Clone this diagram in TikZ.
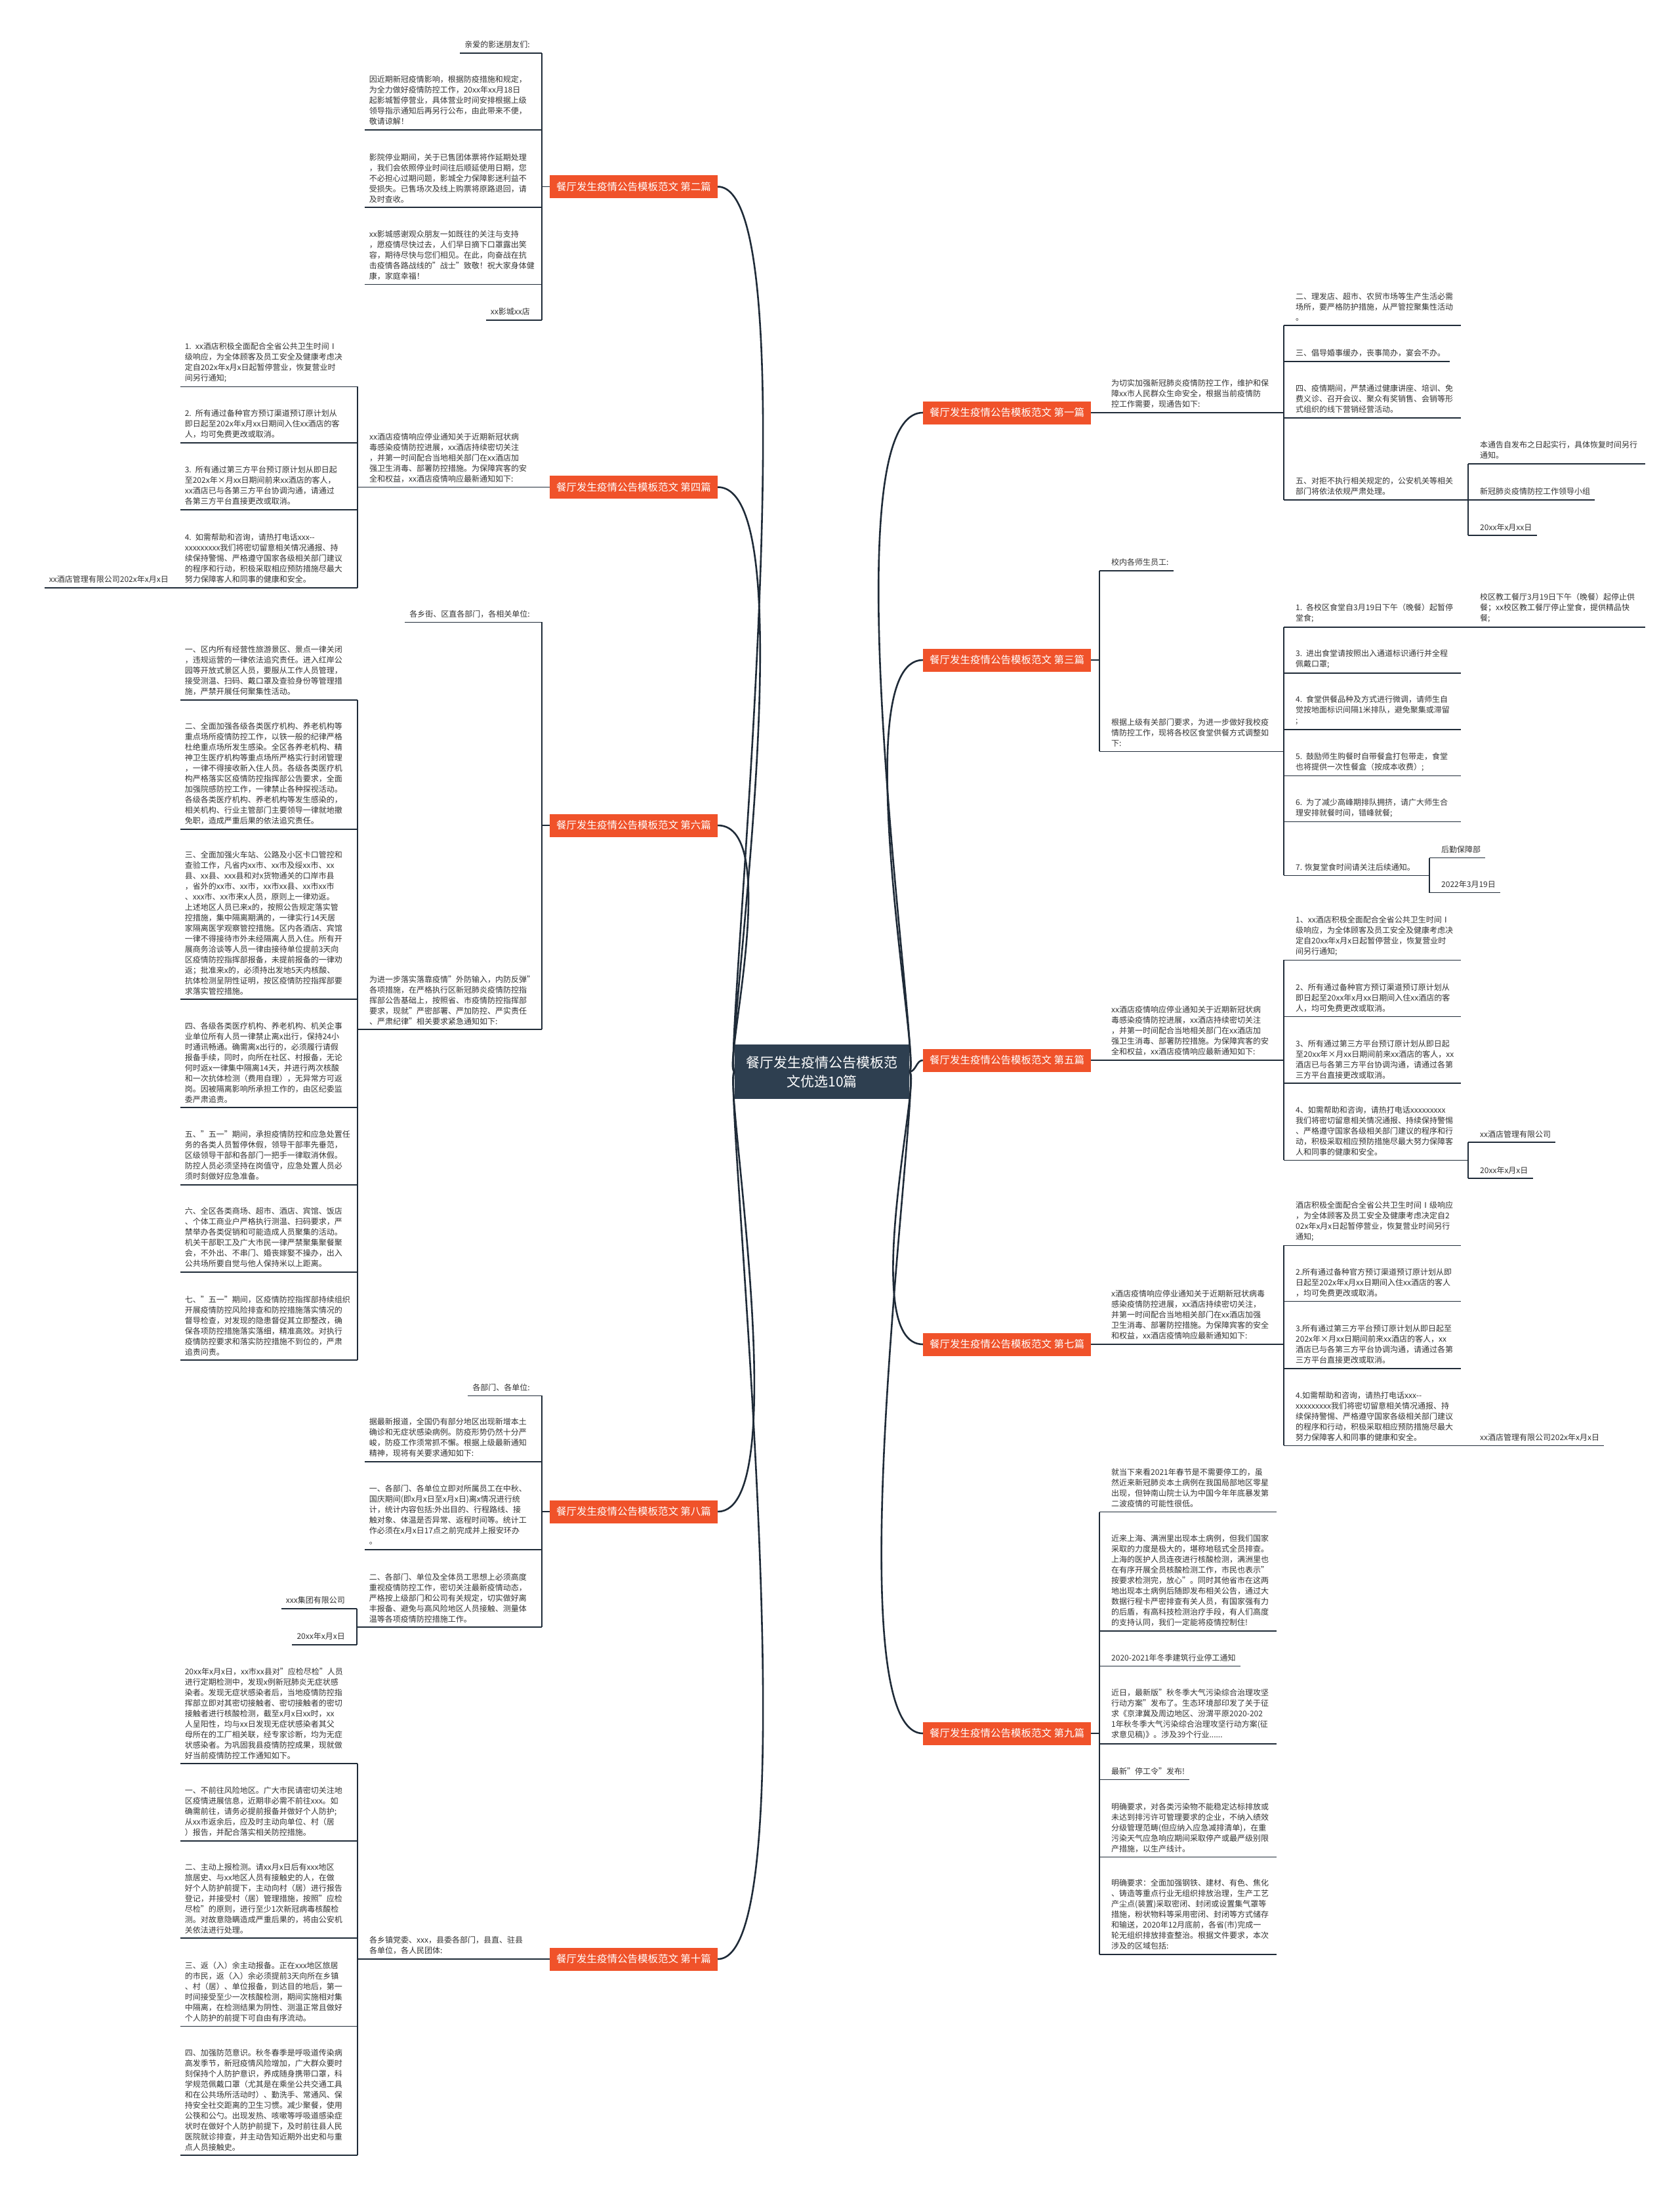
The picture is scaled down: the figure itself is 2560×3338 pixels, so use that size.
\documentclass[tikz,border=0pt]{standalone}
\usepackage{fontspec}
\setmainfont{Noto Sans CJK SC}
\usetikzlibrary{calc}
\definecolor{linec}{HTML}{1F2B38}
\definecolor{labc}{HTML}{F0522A}
\definecolor{ctrc}{HTML}{2E3F50}
\definecolor{txtc}{HTML}{333333}
\tikzset{
 ln/.style={draw=linec, line width=1.6pt},
 crv/.style={draw=linec, line width=2.6pt},
 tx/.style={font=\fontsize{12}{16}\selectfont, text=txtc, inner xsep=7pt, inner ysep=6.8pt, align=left},
 pp/.style={tx, text width=245pt},
 nl/.style={anchor=south east},
 nr/.style={anchor=south west},
 lab/.style={fill=labc, text=white, font=\fontsize{15.5}{18}\selectfont, minimum width=256pt, minimum height=35pt, inner sep=0pt},
 ctr/.style={fill=ctrc, text=white, font=\fontsize{21}{29}\selectfont, align=center, minimum width=266pt, minimum height=83pt, inner sep=0pt},
}
\begin{document}
\begin{tikzpicture}[x=1pt,y=-1pt]
\useasboundingbox (0,0) rectangle (2560,3338);
\fill[white] (0,0) rectangle (2560,3338);

% ---------- center and labels ----------
\node[ctr] (c) at (1253,1633.5) {餐厅发生疫情公告模板范\\文优选10篇};
\node[lab] (L2) at (966,284.5) {餐厅发生疫情公告模板范文 第二篇};
\node[lab] (L4) at (966,742.5) {餐厅发生疫情公告模板范文 第四篇};
\node[lab] (L6) at (966,1258) {餐厅发生疫情公告模板范文 第六篇};
\node[lab] (L8) at (966,2304) {餐厅发生疫情公告模板范文 第八篇};
\node[lab] (L10) at (966,2986) {餐厅发生疫情公告模板范文 第十篇};
\node[lab] (L1) at (1535,629) {餐厅发生疫情公告模板范文 第一篇};
\node[lab] (L3) at (1535,1006) {餐厅发生疫情公告模板范文 第三篇};
\node[lab] (L5) at (1535,1616) {餐厅发生疫情公告模板范文 第五篇};
\node[lab] (L7) at (1535,2049) {餐厅发生疫情公告模板范文 第七篇};
\node[lab] (L9) at (1535,2642) {餐厅发生疫情公告模板范文 第九篇};

\draw[crv] (L2.east) .. controls +(150,0) and +(-20,0) .. (c.west);
\draw[crv] (L4.east) .. controls +(140,0) and +(-20,0) .. (c.west);
\draw[crv] (L6.east) .. controls +(100,0) and +(-20,0) .. (c.west);
\draw[crv] (L8.east) .. controls +(120,0) and +(-20,0) .. (c.west);
\draw[crv] (L10.east) .. controls +(150,0) and +(-20,0) .. (c.west);
\draw[crv] (L1.west) .. controls +(-150,0) and +(20,0) .. (c.east);
\draw[crv] (L3.west) .. controls +(-120,0) and +(20,0) .. (c.east);
\draw[crv] (L5.west) .. controls +(-10,0) and +(10,0) .. (c.east);
\draw[crv] (L7.west) .. controls +(-100,0) and +(20,0) .. (c.east);
\draw[crv] (L9.west) .. controls +(-140,0) and +(20,0) .. (c.east);

% ---------- branch 2 ----------
\coordinate (k2) at (826,284.5);
\node[tx,nl] (b2a) at (815,80.7) {亲爱的影迷朋友们:};
\node[pp,nl] (b2b) at (815,197.7) {因近期新冠疫情影响，根据防疫措施和规定，\\为全力做好疫情防控工作，20xx年xx月18日\\起影城暂停营业，具体营业时间安排根据上级\\领导指示通知后再另行公布，由此带来不便，\\敬请谅解！};
\node[pp,nl] (b2c) at (815,316) {影院停业期间，关于已售团体票将作延期处理\\，我们会依照停业时间往后顺延使用日期，您\\不必担心过期问题，影城全力保障影迷利益不\\受损失。已售场次及线上购票将原路退回，请\\及时查收。};
\node[pp,nl] (b2d) at (815,433.3) {xx影城感谢观众朋友一如既往的关注与支持\\，愿疫情尽快过去，人们早日摘下口罩露出笑\\容，期待尽快与您们相见。在此，向奋战在抗\\击疫情各路战线的"战士"致敬！祝大家身体健\\康，家庭幸福！};
\node[tx,nl] (b2e) at (815,487.7) {xx影城xx店};
\draw[ln] (L2.west) -- (k2);
\draw[ln] (b2a.south west -| k2) -- (b2e.south west -| k2);
\foreach \n in {b2a,b2b,b2c,b2d,b2e} \draw[ln] (\n.south west) -- (\n.south west -| k2);

% ---------- branch 4 ----------
\coordinate (k4) at (545,742.5);
\node[pp,nr] (i4) at (556,742.5) {xx酒店疫情响应停业通知关于近期新冠状病\\毒感染疫情防控进展，xx酒店持续密切关注\\，并第一时间配合当地相关部门在xx酒店加\\强卫生消毒、部署防控措施。为保障宾客的安\\全和权益，xx酒店疫情响应最新通知如下:};
\draw[ln] (L4.west) -- (k4);
\node[pp,nl] (c41) at (534,589.3) {1. xx酒店积极全面配合全省公共卫生时间Ⅰ\\级响应，为全体顾客及员工安全及健康考虑决\\定自202x年x月x日起暂停营业，恢复营业时\\间另行通知;};
\node[pp,nl] (c42) at (534,675) {2. 所有通过备种官方预订渠道预订原计划从\\即日起至202x年x月xx日期间入住xx酒店的客\\人，均可免费更改或取消。};
\node[pp,nl] (c43) at (534,776.7) {3. 所有通过第三方平台预订原计划从即日起\\至202x年×月xx日期间前来xx酒店的客人，\\xx酒店已与各第三方平台协调沟通，请通过\\各第三方平台直接更改或取消。};
\node[pp,nl] (c44) at (534,895.7) {4. 如需帮助和咨询，请热打电话xxx-{}-\\xxxxxxxxx我们将密切留意相关情况通报、持\\续保持警惕、严格遵守国家各级相关部门建议\\的程序和行动，积极采取相应预防措施尽最大\\努力保障客人和同事的健康和安全。};
\node[tx,nl] (g4) at (264,895.7) {xx酒店管理有限公司202x年x月x日};
\draw[ln] (c41.south west -| k4) -- (c44.south west -| k4);
\foreach \n in {c41,c42,c43,c44} \draw[ln] (\n.south west) -- (\n.south west -| k4);
\draw[ln] (g4.south west) -- (c44.south west);

% ---------- branch 6 ----------
\coordinate (k6) at (826,1258);
\coordinate (k6b) at (545,1569);
\node[tx,nl] (t6) at (815,948.3) {各乡街、区直各部门，各相关单位:};
\node[pp,nr] (i6) at (556,1569) {为进一步落实落靠疫情"外防输入，内防反弹"\\各项措施，在严格执行区新冠肺炎疫情防控指\\挥部公告基础上，按照省、市疫情防控指挥部\\要求，现就"严密部署、严加防控、严实责任\\、严肃纪律"相关要求紧急通知如下:};
\draw[ln] (L6.west) -- (k6);
\draw[ln] (t6.south west -| k6) -- (k6b -| k6);
\draw[ln] (t6.south west) -- (t6.south west -| k6);
\draw[ln] (k6b) -- (k6b -| k6);
\node[pp,nl] (e61) at (534,1067) {一、区内所有经营性旅游景区、景点一律关闭\\，违规运营的一律依法追究责任。进入红岸公\\园等开放式景区人员，要服从工作人员管理，\\接受测温、扫码、戴口罩及查验身份等管理措\\施，严禁开展任何聚集性活动。};
\node[pp,nl] (e62) at (534,1264) {二、全面加强各级各类医疗机构、养老机构等\\重点场所疫情防控工作，以铁一般的纪律严格\\杜绝重点场所发生感染。全区各养老机构、精\\神卫生医疗机构等重点场所严格实行封闭管理\\，一律不得接收新入住人员。各级各类医疗机\\构严格落实区疫情防控指挥部公告要求，全面\\加强院感防控工作，一律禁止各种探视活动。\\各级各类医疗机构、养老机构等发生感染的，\\相关机构、行业主管部门主要领导一律就地撤\\免职，造成严重后果的依法追究责任。};
\node[pp,nl] (e63) at (534,1523) {三、全面加强火车站、公路及小区卡口管控和\\查验工作，凡省内xx市、xx市及绥xx市、xx\\县、xx县、xxx县和对x货物通关的口岸市县\\，省外的xx市、xx市，xx市xx县、xx市xx市\\、xxx市、xx市来x人员，原则上一律劝返。\\上述地区人员已来x的，按照公告规定落实管\\控措施，集中隔离期满的，一律实行14天居\\家隔离医学观察管控措施。区内各酒店、宾馆\\一律不得接待市外未经隔离人员入住。所有开\\展商务洽谈等人员一律由接待单位提前3天向\\区疫情防控指挥部报备，未提前报备的一律劝\\返；批准来x的，必须持出发地5天内核酸、\\抗体检测呈阴性证明，按区疫情防控指挥部要\\求落实管控措施。};
\node[pp,nl] (e64) at (534,1688) {四、各级各类医疗机构、养老机构、机关企事\\业单位所有人员一律禁止离x出行，保持24小\\时通讯畅通。确需离x出行的，必须履行请假\\报备手续，同时，向所在社区、村报备，无论\\何时返x一律集中隔离14天，并进行两次核酸\\和一次抗体检测（费用自理），无异常方可返\\岗。因被隔离影响所承担工作的，由区纪委监\\委严肃追责。};
\node[pp,nl] (e65) at (534,1806) {五、"五一"期间，承担疫情防控和应急处置任\\务的各类人员暂停休假，领导干部率先垂范，\\区级领导干部和各部门一把手一律取消休假。\\防控人员必须坚持在岗值守，应急处置人员必\\须时刻做好应急准备。};
\node[pp,nl] (e66) at (534,1939) {六、全区各类商场、超市、酒店、宾馆、饭店\\、个体工商业户严格执行测温、扫码要求，严\\禁举办各类促销和可能造成人员聚集的活动。\\机关干部职工及广大市民一律严禁聚集聚餐聚\\会，不外出、不串门、婚丧嫁娶不操办，出入\\公共场所要自觉与他人保持米以上距离。};
\node[pp,nl] (e67) at (534,2073) {七、"五一"期间，区疫情防控指挥部持续组织\\开展疫情防控风险排查和防控措施落实情况的\\督导检查，对发现的隐患督促其立即整改，确\\保各项防控措施落实落细，精准高效。对执行\\疫情防控要求和落实防控措施不到位的，严肃\\追责问责。};
\draw[ln] (e61.south west -| k6b) -- (e67.south west -| k6b);
\foreach \n in {e61,e62,e63,e64,e65,e66,e67} \draw[ln] (\n.south west) -- (\n.south west -| k6b);

% ---------- branch 8 ----------
\coordinate (k8) at (826,2304);
\coordinate (k8b) at (544,2480);
\node[tx,nl] (t8) at (815,2127.3) {各部门、各单位:};
\node[pp,nl] (p81) at (815,2228) {据最新报道，全国仍有部分地区出现新增本土\\确诊和无症状感染病例。防疫形势仍然十分严\\峻，防疫工作须常抓不懈。根据上级最新通知\\精神，现将有关要求通知如下:};
\node[pp,nl] (p82) at (815,2361.7) {一、各部门、各单位立即对所属员工在中秋、\\国庆期间(即x月x日至x月x日)离x情况进行统\\计，统计内容包括:外出目的、行程路线、接\\触对象、体温是否异常、返程时间等。统计工\\作必须在x月x日17点之前完成并上报安环办\\。};
\node[pp,nl] (p83) at (815,2480) {二、各部门、单位及全体员工思想上必须高度\\重视疫情防控工作，密切关注最新疫情动态，\\严格按上级部门和公司有关规定，切实做好离\\丰报备、避免与高风险地区人员接触、测量体\\温等各项疫情防控措施工作。};
\node[tx,nl] (q81) at (533,2451.7) {xxx集团有限公司};
\node[tx,nl] (q82) at (533,2506.7) {20xx年x月x日};
\draw[ln] (L8.west) -- (k8);
\draw[ln] (t8.south west -| k8) -- (p83.south west -| k8);
\foreach \n in {t8,p81,p82} \draw[ln] (\n.south west) -- (\n.south west -| k8);
\draw[ln] (k8b) -- (k8b -| k8);
\draw[ln] (q81.south west -| k8b) -- (q82.south west -| k8b);
\foreach \n in {q81,q82} \draw[ln] (\n.south west) -- (\n.south west -| k8b);

% ---------- branch 10 ----------
\coordinate (k10) at (545,2986);
\node[pp,nr] (i10) at (556,2986) {各乡镇党委、xxx，县委各部门，县直、驻县\\各单位，各人民团体:};
\draw[ln] (L10.west) -- (k10);
\node[pp,nl] (f0) at (534,2688) {20xx年x月x日，xx市xx县对"应检尽检"人员\\进行定期检测中，发现x例新冠肺炎无症状感\\染者。发现无症状感染者后，当地疫情防控指\\挥部立即对其密切接触者、密切接触者的密切\\接触者进行核酸检测，截至x月x日xx时，xx\\人呈阳性，均与xx日发现无症状感染者其父\\母所在的工厂相关联，经专家诊断，均为无症\\状感染者。为巩固我县疫情防控成果，现就做\\好当前疫情防控工作通知如下。};
\node[pp,nl] (f1) at (534,2805.7) {一、不前往风险地区。广大市民请密切关注地\\区疫情进展信息，近期非必需不前往xxx。如\\确需前往，请务必提前报备并做好个人防护;\\从xx市返余后，应及时主动向单位、村（居\\）报告，并配合落实相关防控措施。};
\node[pp,nl] (f2) at (534,2954) {二、主动上报检测。请xx月x日后有xxx地区\\旅居史、与xx地区人员有接触史的人，在做\\好个人防护前提下，主动向村（居）进行报告\\登记，并接受村（居）管理措施，按照"应检\\尽检"的原则，进行至少1次新冠病毒核酸检\\测。对故意隐瞒造成严重后果的，将由公安机\\关依法进行处理。};
\node[pp,nl] (f3) at (534,3088.3) {三、返（入）余主动报备。正在xxx地区旅居\\的市民，返（入）余必须提前3天向所在乡镇\\、村（居）、单位报备，到达目的地后，第一\\时间接受至少一次核酸检测，期间实施相对集\\中隔离，在检测结果为阴性、测温正常且做好\\个人防护的前提下可自由有序流动。};
\node[pp,nl] (f4) at (534,3285) {四、加强防范意识。秋冬春季是呼吸道传染病\\高发季节，新冠疫情风险增加，广大群众要时\\刻保持个人防护意识，养成随身携带口罩，科\\学规范佩戴口罩（尤其是在乘坐公共交通工具\\和在公共场所活动时）、勤洗手、常通风、保\\持安全社交距离的卫生习惯。减少聚餐，使用\\公筷和公勺。出现发热、咳嗽等呼吸道感染症\\状时在做好个人防护前提下，及时前往县人民\\医院就诊排查，并主动告知近期外出史和与重\\点人员接触史。};
\draw[ln] (f0.south west -| k10) -- (f4.south west -| k10);
\foreach \n in {f0,f1,f2,f3,f4} \draw[ln] (\n.south west) -- (\n.south west -| k10);

% ---------- branch 1 ----------
\coordinate (k1) at (1957,629);
\coordinate (k1b) at (2238,761.7);
\node[pp,nr] (i1) at (1687,629) {为切实加强新冠肺炎疫情防控工作，维护和保\\障xx市人民群众生命安全，根据当前疫情防\\控工作需要，现通告如下:};
\draw[ln] (L1.east) -- (k1);
\node[pp,nr] (d11) at (1968,496) {二、理发店、超市、农贸市场等生产生活必需\\场所，要严格防护措施，从严管控聚集性活动\\。};
\node[tx,nr] (d12) at (1968,550.7) {三、倡导婚事缓办，丧事简办，宴会不办。};
\node[pp,nr] (d13) at (1968,636.7) {四、疫情期间，严禁通过健康讲座、培训、免\\费义诊、召开会议、聚众有奖销售、会销等形\\式组织的线下营销经营活动。};
\node[pp,nr] (d14) at (1968,761.7) {五、对拒不执行相关规定的，公安机关等相关\\部门将依法依规严肃处理。};
\draw[ln] (d11.south west -| k1) -- (d14.south west -| k1);
\foreach \n in {d11,d12,d13} \draw[ln] (\n.south west -| k1) -- (\n.south east);
\draw[ln] (d14.south west -| k1) -- (k1b);
\node[pp,nr] (s11) at (2249,706.7) {本通告自发布之日起实行，具体恢复时间另行\\通知。};
\node[tx,nr] (s12) at (2249,761.7) {新冠肺炎疫情防控工作领导小组};
\node[tx,nr] (s13) at (2249,816) {20xx年x月xx日};
\draw[ln] (s11.south west -| k1b) -- (s13.south west -| k1b);
\foreach \n in {s11,s12,s13} \draw[ln] (\n.south west -| k1b) -- (\n.south east);

% ---------- branch 3 ----------
\coordinate (k3) at (1676,1006);
\coordinate (k3b) at (1957,1145.3);
\coordinate (k3c) at (2179,1334.3);
\draw[ln] (L3.east) -- (k3);
\node[tx,nr] (t3) at (1687,869.7) {校内各师生员工:};
\node[pp,nr] (i3) at (1687,1145.3) {根据上级有关部门要求，为进一步做好我校疫\\情防控工作，现将各校区食堂供餐方式调整如\\下:};
\draw[ln] (t3.south west -| k3) -- (i3.south west -| k3);
\draw[ln] (t3.south west -| k3) -- (t3.south east);
\draw[ln] (i3.south west -| k3) -- (k3b);
\node[pp,nr] (d31) at (1968,956) {1. 各校区食堂自3月19日下午（晚餐）起暂停\\堂食;};
\node[pp,nr] (d32) at (1968,1026) {3. 进出食堂请按照出入通道标识通行并全程\\佩戴口罩;};
\node[pp,nr] (d33) at (1968,1112) {4. 食堂供餐品种及方式进行微调，请师生自\\觉按地面标识间隔1米排队，避免聚集或滞留\\;};
\node[pp,nr] (d34) at (1968,1182.5) {5. 鼓励师生购餐时自带餐盒打包带走，食堂\\也将提供一次性餐盒（按成本收费）;};
\node[pp,nr] (d35) at (1968,1252.4) {6. 为了减少高峰期排队拥挤，请广大师生合\\理安排就餐时间，错峰就餐;};
\node[tx,nr] (d36) at (1968,1334.3) {7. 恢复堂食时间请关注后续通知。};
\draw[ln] (d31.south west -| k3b) -- (d36.south west -| k3b);
\foreach \n in {d32,d33,d34,d35} \draw[ln] (\n.south west -| k3b) -- (\n.south east);
\node[pp,nr] (s31) at (2249,956) {校区教工餐厅3月19日下午（晚餐）起停止供\\餐；xx校区教工餐厅停止堂食，提供精品快\\餐;};
\draw[ln] (d31.south west -| k3b) -- (s31.south east);
\draw[ln] (d36.south west -| k3b) -- (k3c);
\node[tx,nr] (s36a) at (2190,1307.5) {后勤保障部};
\node[tx,nr] (s36b) at (2190,1360.6) {2022年3月19日};
\draw[ln] (s36a.south west -| k3c) -- (s36b.south west -| k3c);
\foreach \n in {s36a,s36b} \draw[ln] (\n.south west -| k3c) -- (\n.south east);

% ---------- branch 5 ----------
\coordinate (k5) at (1957,1616);
\coordinate (k5b) at (2238,1768.3);
\node[pp,nr] (i5) at (1687,1616) {xx酒店疫情响应停业通知关于近期新冠状病\\毒感染疫情防控进展，xx酒店持续密切关注\\，并第一时间配合当地相关部门在xx酒店加\\强卫生消毒、部署防控措施。为保障宾客的安\\全和权益，xx酒店疫情响应最新通知如下:};
\draw[ln] (L5.east) -- (k5);
\node[pp,nr] (d51) at (1968,1463.3) {1、xx酒店积极全面配合全省公共卫生时间Ⅰ\\级响应，为全体顾客及员工安全及健康考虑决\\定自20xx年x月x日起暂停营业，恢复营业时\\间另行通知;};
\node[pp,nr] (d52) at (1968,1549.3) {2、所有通过备种官方预订渠道预订原计划从\\即日起至20xx年x月xx日期间入住xx酒店的客\\人，均可免费更改或取消。};
\node[pp,nr] (d53) at (1968,1651) {3、所有通过第三方平台预订原计划从即日起\\至20xx年×月xx日期间前来xx酒店的客人，xx\\酒店已与各第三方平台协调沟通，请通过各第\\三方平台直接更改或取消。};
\node[pp,nr] (d54) at (1968,1768.3) {4、如需帮助和咨询，请热打电话xxxxxxxxx\\我们将密切留意相关情况通报、持续保持警惕\\、严格遵守国家各级相关部门建议的程序和行\\动，积极采取相应预防措施尽最大努力保障客\\人和同事的健康和安全。};
\draw[ln] (d51.south west -| k5) -- (d54.south west -| k5);
\foreach \n in {d51,d52,d53} \draw[ln] (\n.south west -| k5) -- (\n.south east);
\draw[ln] (d54.south west -| k5) -- (k5b);
\node[tx,nr] (s51) at (2249,1741) {xx酒店管理有限公司};
\node[tx,nr] (s52) at (2249,1796) {20xx年x月x日};
\draw[ln] (s51.south west -| k5b) -- (s52.south west -| k5b);
\foreach \n in {s51,s52} \draw[ln] (\n.south west -| k5b) -- (\n.south east);

% ---------- branch 7 ----------
\coordinate (k7) at (1957,2049);
\node[pp,nr] (i7) at (1687,2049) {x酒店疫情响应停业通知关于近期新冠状病毒\\感染疫情防控进展，xx酒店持续密切关注，\\并第一时间配合当地相关部门在xx酒店加强\\卫生消毒、部署防控措施。为保障宾客的安全\\和权益，xx酒店疫情响应最新通知如下:};
\draw[ln] (L7.east) -- (k7);
\node[pp,nr] (d71) at (1968,1898.3) {酒店积极全面配合全省公共卫生时间Ⅰ级响应\\，为全体顾客及员工安全及健康考虑决定自2\\02x年x月x日起暂停营业，恢复营业时间另行\\通知;};
\node[pp,nr] (d72) at (1968,1983.3) {2.所有通过备种官方预订渠道预订原计划从即\\日起至202x年x月xx日期间入住xx酒店的客人\\，均可免费更改或取消。};
\node[pp,nr] (d73) at (1968,2085.7) {3.所有通过第三方平台预订原计划从即日起至\\202x年×月xx日期间前来xx酒店的客人，xx\\酒店已与各第三方平台协调沟通，请通过各第\\三方平台直接更改或取消。};
\node[pp,nr] (d74) at (1968,2203.3) {4.如需帮助和咨询，请热打电话xxx-{}-\\xxxxxxxxx我们将密切留意相关情况通报、持\\续保持警惕、严格遵守国家各级相关部门建议\\的程序和行动，积极采取相应预防措施尽最大\\努力保障客人和同事的健康和安全。};
\draw[ln] (d71.south west -| k7) -- (d74.south west -| k7);
\foreach \n in {d71,d72,d73} \draw[ln] (\n.south west -| k7) -- (\n.south east);
\node[tx,nr] (s71) at (2249,2203.3) {xx酒店管理有限公司202x年x月x日};
\draw[ln] (d74.south west -| k7) -- (s71.south east);

% ---------- branch 9 ----------
\coordinate (k9) at (1676,2642);
\draw[ln] (L9.east) -- (k9);
\node[pp,nr] (n91) at (1687,2304.5) {就当下来看2021年春节是不需要停工的，虽\\然近来新冠肺炎本土病例在我国局部地区零星\\出现，但钟南山院士认为中国今年年底暴发第\\二波疫情的可能性很低。};
\node[pp,nr] (n92) at (1687,2486) {近来上海、满洲里出现本土病例，但我们国家\\采取的力度是极大的，堪称地毯式全员排查。\\上海的医护人员连夜进行核酸检测，满洲里也\\在有序开展全员核酸检测工作，市民也表示"\\按要求检测完，放心"。同时其他省市在这两\\地出现本土病例后随即发布相关公告，通过大\\数据行程卡严密排查有关人员，有国家强有力\\的后盾，有高科技检测治疗手段，有人们高度\\的支持认同，我们一定能将疫情控制住!};
\node[tx,nr] (n93) at (1687,2539.4) {2020-2021年冬季建筑行业停工通知};
\node[pp,nr] (n94) at (1687,2657.8) {近日，最新版"秋冬季大气污染综合治理攻坚\\行动方案"发布了。生态环境部印发了关于征\\求《京津冀及周边地区、汾渭平原2020-202\\1年秋冬季大气污染综合治理攻坚行动方案(征\\求意见稿)》。涉及39个行业......};
\node[tx,nr] (n95) at (1687,2712.5) {最新"停工令"发布!};
\node[pp,nr] (n96) at (1687,2830.4) {明确要求，对各类污染物不能稳定达标排放或\\未达到排污许可管理要求的企业，不纳入绩效\\分级管理范畴(但应纳入应急减排清单)，在重\\污染天气应急响应期间采取停产或最严级别限\\产措施，以生产线计。};
\node[pp,nr] (n97) at (1687,2978.7) {明确要求：全面加强钢铁、建材、有色、焦化\\、铸造等重点行业无组织排放治理，生产工艺\\产尘点(装置)采取密闭、封闭或设置集气罩等\\措施，粉状物料等采用密闭、封闭等方式储存\\和输送，2020年12月底前，各省(市)完成一\\轮无组织排放排查整治。根据文件要求，本次\\涉及的区域包括:};
\draw[ln] (n91.south west -| k9) -- (n97.south west -| k9);
\foreach \n in {n91,n92,n93,n94,n95,n96,n97} \draw[ln] (\n.south west -| k9) -- (\n.south east);
\end{tikzpicture}
\end{document}
